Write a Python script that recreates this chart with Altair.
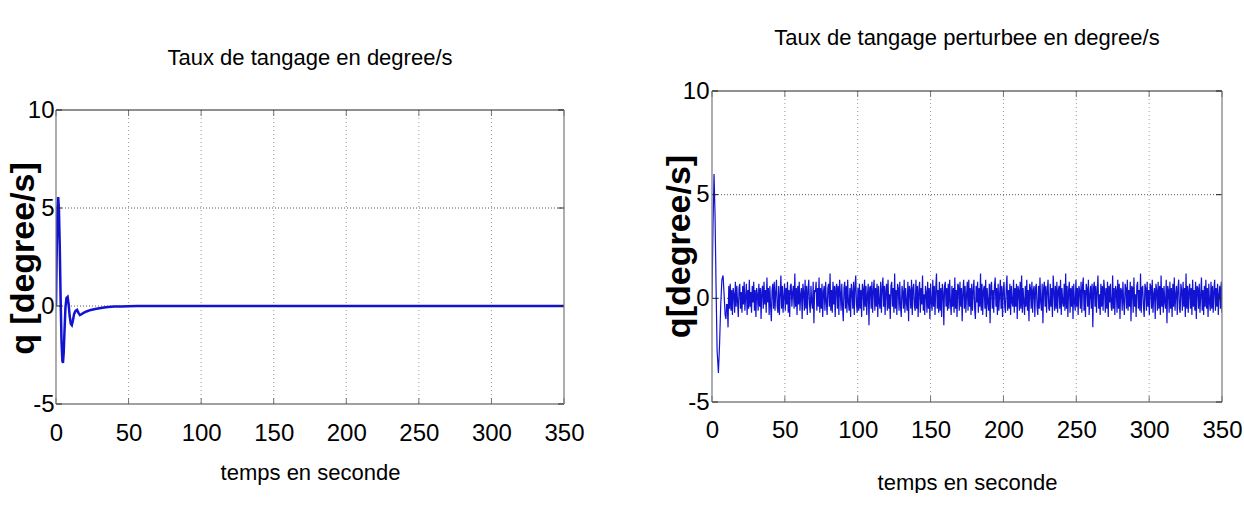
import altair as alt
import pandas as pd
import numpy as np

# ---------------- data ----------------
x_ticks = [0, 50, 100, 150, 200, 250, 300, 350]
y_ticks = [-5, 0, 5, 10]
x_grid = [50, 100, 150, 200, 250, 300]
y_grid = [0, 5]

title_left = "Taux de tangage en degree/s"
title_right = "Taux de tangage perturbee en degree/s"
xtitle = "temps en seconde"
ytitle_left = "q [degree/s]"
ytitle_right = "q[degree/s]"

# left panel: damped response (time s, q deg/s)
left_t = [0, 0.5, 1.0, 1.5, 2.0, 2.6, 3.2, 3.8, 4.4, 4.8, 5.3, 5.9, 6.5, 7.2, 8.0, 8.7,
          9.4, 10.2, 10.9, 11.6, 12.5, 13.5, 14.5, 15.5, 16.5, 17.5, 19, 21, 24, 27, 30,
          33, 36, 40, 45, 50, 56, 350]
left_q = [0, 2.8, 5.0, 5.56, 5.0, 3.0, 0.3, -1.8, -2.8, -2.9, -2.4, -1.2, -0.1, 0.4, 0.46, 0.1,
          -0.5, -0.9, -0.97, -0.75, -0.4, -0.25, -0.2, -0.35, -0.46, -0.42, -0.35, -0.28, -0.2,
          -0.15, -0.11, -0.08, -0.05, -0.03, -0.02, -0.01, 0, 0]

# right panel: initial transient then perturbed signal
right_t0 = [0, 0.7, 1.4, 2.1, 2.8, 3.5, 4.4, 5.2, 6.0, 6.8, 7.6, 8.3, 9.0, 9.6, 10.0]
right_q0 = [0, 3.5, 6.0, 4.0, 0.5, -2.5, -3.6, -2.2, -0.3, 0.9, 1.1, 0.2, -0.8, -1.0, -0.3]

right_noise = [
    -0.3, -1.4, 0.6, -0.5, 0.7, -0.6, 0.4, -0.8, 0.5, 0.2, -0.7, 0.8, -0.4, 0.6, -0.2, -0.9, 0.5, 0.7, -0.5, 0.3, -0.7, 0.6, -0.3, 0.8, -0.6, 0.1, 0.7, -0.8, 0.4, -0.5,
    0.9, -0.4, 0.3, -0.7, 0.6, -0.2, 0.8, -0.6, 0.4, -0.9, 0.5, 0.2, -0.6, 0.7, -0.4, 0.5, -1.0, 0.3, 0.6, -0.5, 0.8, -0.3, 0.4, -0.7, 1.0, -0.2, 0.5, -0.8, 0.6, -0.4,
    -1.1, 0.4, 0.7, -0.5, 0.8, -0.6, 0.3, 0.9, -0.4, -0.7, 0.6, -0.8, 0.2, 1.1, -0.5, 0.6, -0.7, 0.1, 0.7, -0.6, 0.5, -0.3, 0.8, -0.7, 0.4, -0.9, 0.6, 0.7, -0.4, 0.3,
    0.6, -0.5, 1.2, -0.4, 0.5, -0.8, 0.6, -0.3, 0.8, -0.6, 0.2, 0.5, -1.0, 0.7, 0.3, -0.6, 0.9, -0.5, 0.6, -0.8, 0.4, 0.9, -0.3, -0.7, 0.6, -0.2, -0.5, 0.8, -1.2, 0.4,
    0.3, 0.8, -0.6, 0.5, -0.4, 1.0, -0.7, 0.5, -0.5, 0.7, -0.9, 0.3, 0.6, -0.6, 0.8, -0.2, -0.8, 0.5, 0.7, -0.4, 1.2, -0.6, 0.4, -0.7, 0.8, -0.3, 0.6, -0.9, 0.5, 0.7,
    -0.5, 0.6, -0.8, 0.9, 0.3, -0.6, 0.7, -0.4, -1.1, 0.5, 0.8, -0.5, 0.6, -0.7, 0.9, -0.2, -0.6, 0.5, -0.9, 0.7, 0.3, -0.5, 0.8, -0.8, 0.6, 1.1, -0.3, -0.7, 0.5, -0.6,
    0.7, -0.5, 0.4, -0.9, 0.7, 0.5, -0.6, 0.9, -0.4, 0.6, -0.8, 0.2, 0.7, -1.3, 0.5, 0.6, -0.5, 0.8, -0.7, 0.4, 0.9, -0.6, 0.5, -0.4, 0.7, -0.9, 0.6, -0.2, -0.5, 0.8,
    -0.7, 0.5, 1.0, -0.4, 0.6, -0.8, 0.4, 0.7, -0.6, 0.9, -0.5, 0.2, -1.0, 0.6, 0.8, -0.4, 0.5, -0.7, 1.2, -0.5, 0.4, -0.8, 0.7, 0.5, -0.6, 0.8, -0.4, -0.9, 0.6, 0.3,
    -0.5, 0.9, -0.7, 0.5, -0.2, -0.6, 0.8, -1.1, 0.6, 0.4, -0.5, 0.9, -0.8, 0.5, 0.7, -0.4, -0.6, 0.9, -0.5, 0.6, -0.9, 0.4, 0.8, -0.7, 0.5, -0.3, 1.1, -0.6, 0.2, -0.8,
    0.6, 0.3, -0.7, 0.8, -0.5, 0.5, -1.0, 0.7, -0.2, -0.6, 0.9, -0.4, 0.6, -0.8, 0.5, 1.2, -0.5, 0.4, -0.7, 0.8, -0.6, 0.5, -0.9, 0.7, 0.3, -1.3, 0.6, 0.8, -0.4, 0.5,
    -0.6, 0.7, -0.5, 0.9, -0.2, -0.8, 0.6, -0.4, 0.5, -0.7, 1.0, -0.5, 0.4, -0.9, 0.7, 0.6, -0.6, 0.8, -0.4, 0.5, -1.1, 0.3, 0.9, -0.5, 0.6, -0.7, 0.2, 0.8, -0.6, 0.9,
    -0.4, 0.5, -0.8, 0.7, -0.6, 0.4, 0.9, -0.5, -1.0, 0.6, -0.2, 0.8, -0.7, 0.5, -0.4, 1.2, -0.6, 0.7, -0.8, 0.4, 0.6, -0.5, 0.9, -0.9, 0.5, -0.2, -0.6, 0.7, -1.2, 0.6,
    0.8, -0.5, 0.4, -0.7, 0.6, 1.0, -0.4, 0.5, -0.8, 0.7, -0.6, 0.2, 0.9, -0.5, 0.6, -0.9, 0.4, 0.8, -0.4, -0.7, 0.5, 1.1, -0.6, 0.4, -0.5, 0.7, -0.8, 0.6, -0.2, -0.4,
    0.9, -0.7, 0.5, -0.4, 0.7, -1.0, 0.6, 0.4, -0.6, 0.8, -0.5, 1.1, -0.7, 0.5, -0.2, -0.8, 0.6, -0.4, 0.9, -0.6, 0.4, -1.1, 0.7, 0.5, -0.5, 0.8, -0.7, 0.4, 0.6, -0.9,
    0.5, 0.7, -0.4, -0.8, 0.6, -0.5, 1.0, -0.2, -0.6, 0.7, -1.2, 0.5, 0.8, -0.4, 0.6, -0.7, 0.4, 0.9, -0.5, -0.6, 0.7, -0.4, 0.5, -0.9, 1.1, 0.4, -0.6, 0.6, -0.5, 0.8,
    -0.7, 0.4, 0.6, -0.5, 0.9, -0.8, 0.5, -0.2, -0.4, 0.7, -0.6, 1.2, -0.5, 0.6, -0.9, 0.4, 0.8, -0.7, 0.5, -0.4, 0.6, -1.0, 0.7, -0.2, -0.6, 0.9, -0.4, 0.5, -0.8, 0.6,
    0.4, -0.5, 0.8, -0.7, 0.6, 1.0, -0.6, 0.4, -0.9, 0.7, 0.5, -0.4, 0.9, -0.8, 0.2, 0.6, -0.5, 0.7, -1.4, 0.5, 0.8, -0.4, 0.6, -0.7, 0.4, 1.1, -0.5, 0.2, -0.8, 0.7,
    -0.4, 0.6, -0.6, 0.9, 0.4, -0.7, 0.5, -0.5, 0.8, -0.9, 0.6, -0.2, 0.7, -0.4, -0.6, 1.1, -0.5, 0.5, -0.8, 0.6, 0.4, -0.7, 0.9, -0.5, 0.7, -1.0, 0.5, 0.4, -0.6, 0.8,
    -0.2, -0.8, 0.7, 0.5, -0.5, 0.9, -0.6, 0.4, -0.4, 0.8, -1.1, 0.6, 0.5, -0.7, 1.0, -0.4, 0.2, -0.9, 0.6, 0.8, -0.5, 0.4, -0.6, 1.2, -0.7, 0.5, 0.6, -0.4, -0.9, 0.7,
    0.5, -0.6, 0.8, -0.4, 0.4, -0.8, 0.7, 0.6, -0.5, 0.9, -0.7, 0.2, 0.5, -1.0, 0.7, 0.4, -0.6, 0.8, -0.5, 0.6, -0.8, 1.1, -0.4, 0.5, -0.7, 0.6, -0.2, -0.5, 0.9, -1.2,
    0.6, 0.4, -0.7, 0.8, -0.5, 0.5, -0.9, 0.7, -0.4, 1.0, -0.6, 0.2, 0.6, -0.8, 0.5, 0.9, -0.5, -0.7, 0.7, 0.4, -0.6, 0.8, -0.4, 0.5, -0.9, 1.2, -0.5, 0.6, -0.7, 0.4,
    0.7, -0.5, 0.5, -0.8, 0.9, -0.4, 0.4, -0.6, 0.8, -1.0, 0.6, 0.5, -0.5, 0.7, -0.7, 0.2, 1.0, -0.6, 0.4, -0.8, 0.6, -0.4, 0.9, -0.5, 0.5, -0.9, 0.7, -0.2, -0.6, 0.8,
    -0.5, 0.6, -0.7, 0.4, 0.9, -0.6, 0.5, -0.4, 0.7, -0.8, 0.2, 0.6, -0.5, 0.8, -0.7,
]
noise_start, noise_end = 10.5, 350.0
noise_t = list(np.linspace(noise_start, noise_end, len(right_noise)))

# ---------------- style ----------------
FONT = "Liberation Sans, Arial, Helvetica, sans-serif"
LINE_COLOR = "#1212d2"
ONE = pd.DataFrame({"a": [0]})


def panel(df, W, H, frame_top, title, title_y, ytitle, left_px, right_px, top_px,
          ytitle_y, xlab_pad, xtitle_y, ylab_pad, line_w):
    xs = alt.Scale(domain=[0, 350], nice=False, zero=False)
    ys = alt.Scale(domain=[-5, 10], nice=False, zero=False, range=[H, frame_top])
    x_axis = alt.Axis(values=x_ticks, grid=False, domain=False, ticks=False, tickSize=0,
                      labelFont=FONT, labelFontSize=24, labelColor="#000",
                      labelPadding=xlab_pad, labelBaseline="middle", labelFlush=False,
                      labelOverlap=False, labelExpr="'' + datum.value",
                      title=xtitle, titleFont=FONT, titleFontSize=22,
                      titleFontWeight="normal", titleColor="#000", titleX=W / 2,
                      titleY=xtitle_y, titleBaseline="middle", titleAlign="center")
    y_axis = alt.Axis(values=y_ticks, grid=False, domain=False, ticks=False, tickSize=0,
                      labelFont=FONT, labelFontSize=24, labelColor="#000",
                      labelPadding=ylab_pad, labelAlign="right", labelBaseline="middle",
                      labelFlush=False, labelOverlap=False, labelExpr="'' + datum.value",
                      title=ytitle, titleFont=FONT, titleFontSize=34, titleFontWeight="bold",
                      titleColor="#000", titleAngle=270, titleX=-33, titleY=ytitle_y,
                      titleBaseline="middle", titleAlign="center")

    X = lambda: alt.X("t:Q", scale=xs, axis=x_axis)
    Y = lambda: alt.Y("q:Q", scale=ys, axis=y_axis)

    xt = pd.DataFrame({"t": x_ticks})
    yt = pd.DataFrame({"q": y_ticks})
    xg = pd.DataFrame({"t": x_grid})
    yg = pd.DataFrame({"q": y_grid})

    grid_v = alt.Chart(xg).mark_rule(color="#9a9a9a", strokeWidth=1, strokeDash=[1, 3]).encode(
        x=X(), y=alt.value(frame_top), y2=alt.value(H))
    grid_h = alt.Chart(yg).mark_rule(color="#5a5a5a", strokeWidth=1, strokeDash=[1, 2]).encode(
        y=Y(), x=alt.value(0), x2=alt.value(W))

    line = alt.Chart(df).mark_line(color=LINE_COLOR, strokeWidth=line_w, clip=True).encode(
        x=X(), y=Y())

    tick_bottom = alt.Chart(xt).mark_rule(color="#777", strokeWidth=1).encode(
        x=X(), y=alt.value(H), y2=alt.value(H - 6))
    tick_top = alt.Chart(xt).mark_rule(color="#777", strokeWidth=1).encode(
        x=X(), y=alt.value(frame_top), y2=alt.value(frame_top + 6))
    tick_left = alt.Chart(yt).mark_rule(color="#222", strokeWidth=1).encode(
        y=Y(), x=alt.value(0), x2=alt.value(6))
    tick_right = alt.Chart(yt).mark_rule(color="#222", strokeWidth=1).encode(
        y=Y(), x=alt.value(W - 6), x2=alt.value(W))

    f_top = alt.Chart(ONE).mark_rule(color="#222", strokeWidth=1.2).encode(
        x=alt.value(0), x2=alt.value(W), y=alt.value(frame_top))
    f_bot = alt.Chart(ONE).mark_rule(color="#444", strokeWidth=1.2).encode(
        x=alt.value(0), x2=alt.value(W), y=alt.value(H))
    f_left = alt.Chart(ONE).mark_rule(color="#777", strokeWidth=1.2).encode(
        x=alt.value(0), y=alt.value(frame_top), y2=alt.value(H))
    f_right = alt.Chart(ONE).mark_rule(color="#777", strokeWidth=1.2).encode(
        x=alt.value(W), y=alt.value(frame_top), y2=alt.value(H))

    ttl = alt.Chart(pd.DataFrame({"s": [title]})).mark_text(
        font=FONT, fontSize=22, color="#000", align="center", baseline="middle"
    ).encode(text="s:N", x=alt.value(W / 2), y=alt.value(title_y))

    spacer = alt.Chart(ONE).mark_rule(color="white", strokeWidth=1).encode(
        x=alt.value(-left_px), x2=alt.value(right_px), y=alt.value(-top_px))

    return alt.layer(spacer, grid_v, grid_h, line, tick_bottom, tick_top, tick_left,
                     tick_right, f_top, f_bot, f_left, f_right, ttl).properties(
        width=W, height=H)


left_df = pd.DataFrame({"t": left_t, "q": left_q})
right_df = pd.DataFrame({"t": right_t0 + noise_t, "q": right_q0 + right_noise})

# both views start at y=91; left frame starts 19 px lower
left_panel = panel(left_df, 508, 313, 19, title_left, -33, ytitle_left, left_px=55,
                   right_px=545, top_px=90, ytitle_y=167, xlab_pad=29, xtitle_y=68,
                   ylab_pad=2, line_w=2.5)
right_panel = panel(right_df, 510, 311, 0, title_right, -53, ytitle_right, left_px=109,
                    right_px=0, top_px=90, ytitle_y=155, xlab_pad=28, xtitle_y=80,
                    ylab_pad=3, line_w=1.2)

chart = alt.hconcat(left_panel, right_panel, spacing=0).properties(
    padding=0, background="white"
).configure_view(stroke=None)

chart.save("out.html", embed_options={"renderer": "svg", "actions": False})
